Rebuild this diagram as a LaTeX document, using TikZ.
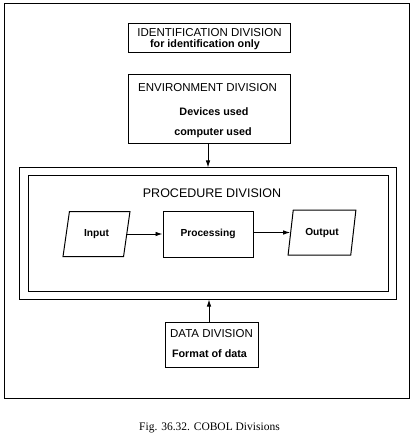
\documentclass[tikz,border=0pt]{standalone}
\usepackage{fontspec}
\setmainfont{Liberation Serif}
\newfontfamily\diagfont{Liberation Sans}
\usetikzlibrary{arrows.meta,shapes.geometric}
\tikzset{
  frame/.style={draw, line width=0.9pt},
  boxnode/.style={draw, line width=1pt, inner sep=0pt},
  ttl/.style={font=\diagfont\fontsize{11.5}{13}\selectfont, inner sep=0pt},
  sub/.style={font=\diagfont\bfseries\fontsize{10.8}{13}\selectfont, inner sep=0pt},
  small/.style={font=\diagfont\bfseries\fontsize{10.2}{12}\selectfont, inner sep=0pt},
  para/.style={draw, line width=1pt, trapezium, trapezium left angle=72, trapezium right angle=108, trapezium stretches=true, inner sep=0pt},
  arr/.style={line width=0.9pt, -{Latex[length=7pt,width=4.5pt]}}
}
\begin{document}
\begin{tikzpicture}[x=1pt,y=-1pt]
\useasboundingbox (0,0) rectangle (415,443);
\draw[frame] (4,3) rectangle (409,398);
% identification
\node[boxnode, minimum width=162pt, minimum height=29pt] (ident) at (209,38.5) {};
\node[ttl] (identt) at (209.5,33) {IDENTIFICATION DIVISION};
\node[sub] (idents) at (205,44.5) {for identification only};
% environment
\node[boxnode, minimum width=162pt, minimum height=69pt] (env) at (209,109.5) {};
\node[ttl] (envt) at (207.5,88) {ENVIRONMENT DIVISION};
\node[sub] (envs1) at (214,112) {Devices used};
\node[sub] (envs2) at (213,133) {computer used};
% procedure
\node[boxnode, minimum width=377pt, minimum height=131pt] (procout) at (207.5,233.5) {};
\node[boxnode, minimum width=360pt, minimum height=115pt] (procin) at (208,233.5) {};
\node[font=\diagfont\fontsize{12.5}{14}\selectfont, inner sep=0pt] (proct) at (212,193) {PROCEDURE DIVISION};
\node[para, minimum width=67pt, minimum height=45pt, small] (input) at (96.5,234) {Input};
\node[boxnode, minimum width=90pt, minimum height=46pt, small] (proc) at (208,234) {Processing};
\node[para, minimum width=68pt, minimum height=45pt, small] (output) at (322,232.5) {Output};
\draw[arr] (input.east) -- (input.east -| proc.west);
\draw[arr] (proc.east |- output.west) -- (output.west);
% data
\node[boxnode, minimum width=93pt, minimum height=45pt] (data) at (211.5,344.5) {};
\node[ttl] (datat) at (211.5,334) {DATA DIVISION};
\node[sub] (datas) at (209.5,354) {Format of data};
% connectors
\draw[arr] (env.south -| 208,0) -- (procout.north -| 208,0);
\draw[arr] (data.north -| 209,0) -- (procout.south -| 209,0);
% caption
\node[font=\fontsize{11.5}{13}\selectfont, inner sep=0pt] (cap) at (209.5,428) {Fig. 36.32. COBOL Divisions};
\end{tikzpicture}
\end{document}
